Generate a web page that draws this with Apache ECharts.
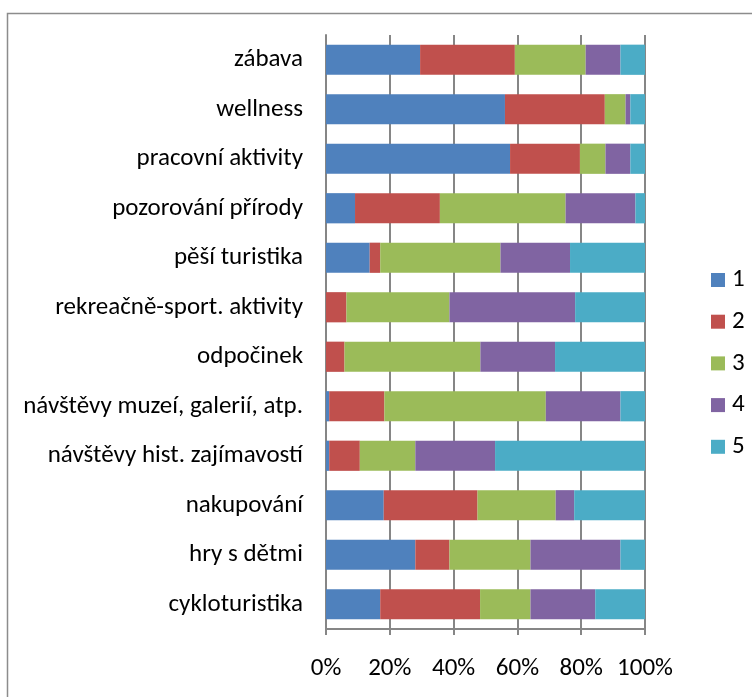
<!DOCTYPE html>
<html>
<head>
<meta charset="utf-8">
<script src="https://cdn.jsdelivr.net/npm/echarts@6/dist/echarts.min.js"></script>
<style>
  html, body { margin: 0; padding: 0; background: #fff; }
  #chart { width: 752px; height: 697px; }
</style>
</head>
<body>
<div id="chart"></div>
<script>
// Activities, listed bottom to top as they appear on the category axis
const categories = [
  'cykloturistika',
  'hry s dětmi',
  'nakupování',
  'návštěvy hist. zajímavostí',
  'návštěvy muzeí, galerií, atp.',
  'odpočinek',
  'rekreačně-sport. aktivity',
  'pěší turistika',
  'pozorování přírody',
  'pracovní aktivity',
  'wellness',
  'zábava'
];

// Share of answers (%) for each rating 1–5
const rating1 = [17.0, 28.0, 18.1, 1.0, 1.0, 0.0, 0.0, 13.7, 9.1, 57.7, 56.1, 29.5];
const rating2 = [31.3, 10.7, 29.4, 9.6, 17.3, 5.8, 6.4, 3.3, 26.6, 21.9, 31.3, 29.7];
const rating3 = [15.8, 25.4, 24.5, 17.4, 50.6, 42.6, 32.3, 37.7, 39.4, 8.0, 6.5, 22.2];
const rating4 = [20.3, 28.2, 5.8, 25.0, 23.4, 23.4, 39.4, 21.8, 21.9, 7.8, 1.5, 10.9];
const rating5 = [15.6, 7.7, 22.2, 47.0, 7.7, 28.2, 21.9, 23.5, 3.0, 4.6, 4.6, 7.7];

const seriesNames = ['1', '2', '3', '4', '5'];
const seriesData = [rating1, rating2, rating3, rating4, rating5];
const colors = ['#4F81BD', '#C0504D', '#9BBB59', '#8064A2', '#4BACC6'];
const xTicks = [0, 20, 40, 60, 80, 100];

const font = 'Calibri, Carlito, "Open Sans", "Liberation Sans", sans-serif';
const fontSize = 25;

const chart = echarts.init(document.getElementById('chart'), null, { renderer: 'canvas' });

chart.setOption({
  animation: false,
  color: colors,
  graphic: [{
    type: 'rect',
    shape: { x: 7.5, y: 13.5, width: 900, height: 900 },
    style: { fill: 'none', stroke: '#8c8c8c', lineWidth: 1.5 },
    z: -10
  }],
  grid: { left: 326, right: 107, top: 35, bottom: 68, containLabel: false },
  legend: {
    orient: 'vertical',
    left: 706,
    top: 262,
    itemWidth: 14,
    itemHeight: 14,
    itemGap: 15.7,
    icon: 'rect',
    textStyle: { fontSize: fontSize, lineHeight: 26, fontFamily: font, color: '#000', padding: [0, 0, 0, 2] },
    data: seriesNames
  },
  xAxis: {
    type: 'value',
    min: 0,
    max: 100,
    interval: 20,
    axisLine: { show: true, lineStyle: { color: '#868686', width: 2 } },
    axisTick: { show: true, length: 6, lineStyle: { color: '#868686', width: 2 } },
    splitLine: { show: true, lineStyle: { color: '#868686', width: 2 } },
    axisLabel: {
      fontSize: fontSize,
      fontFamily: font,
      color: '#000',
      margin: 27,
      formatter: v => (xTicks.includes(v) ? v + '%' : '')
    }
  },
  yAxis: {
    type: 'category',
    data: categories,
    axisLine: { show: true, lineStyle: { color: '#868686', width: 2 } },
    axisTick: { show: false },
    axisLabel: { fontSize: fontSize, fontFamily: font, color: '#000', margin: 23 }
  },
  series: seriesData.map((d, i) => ({
    name: seriesNames[i],
    type: 'bar',
    stack: 'total',
    barCategoryGap: '39%',
    data: d
  }))
});
</script>
</body>
</html>
